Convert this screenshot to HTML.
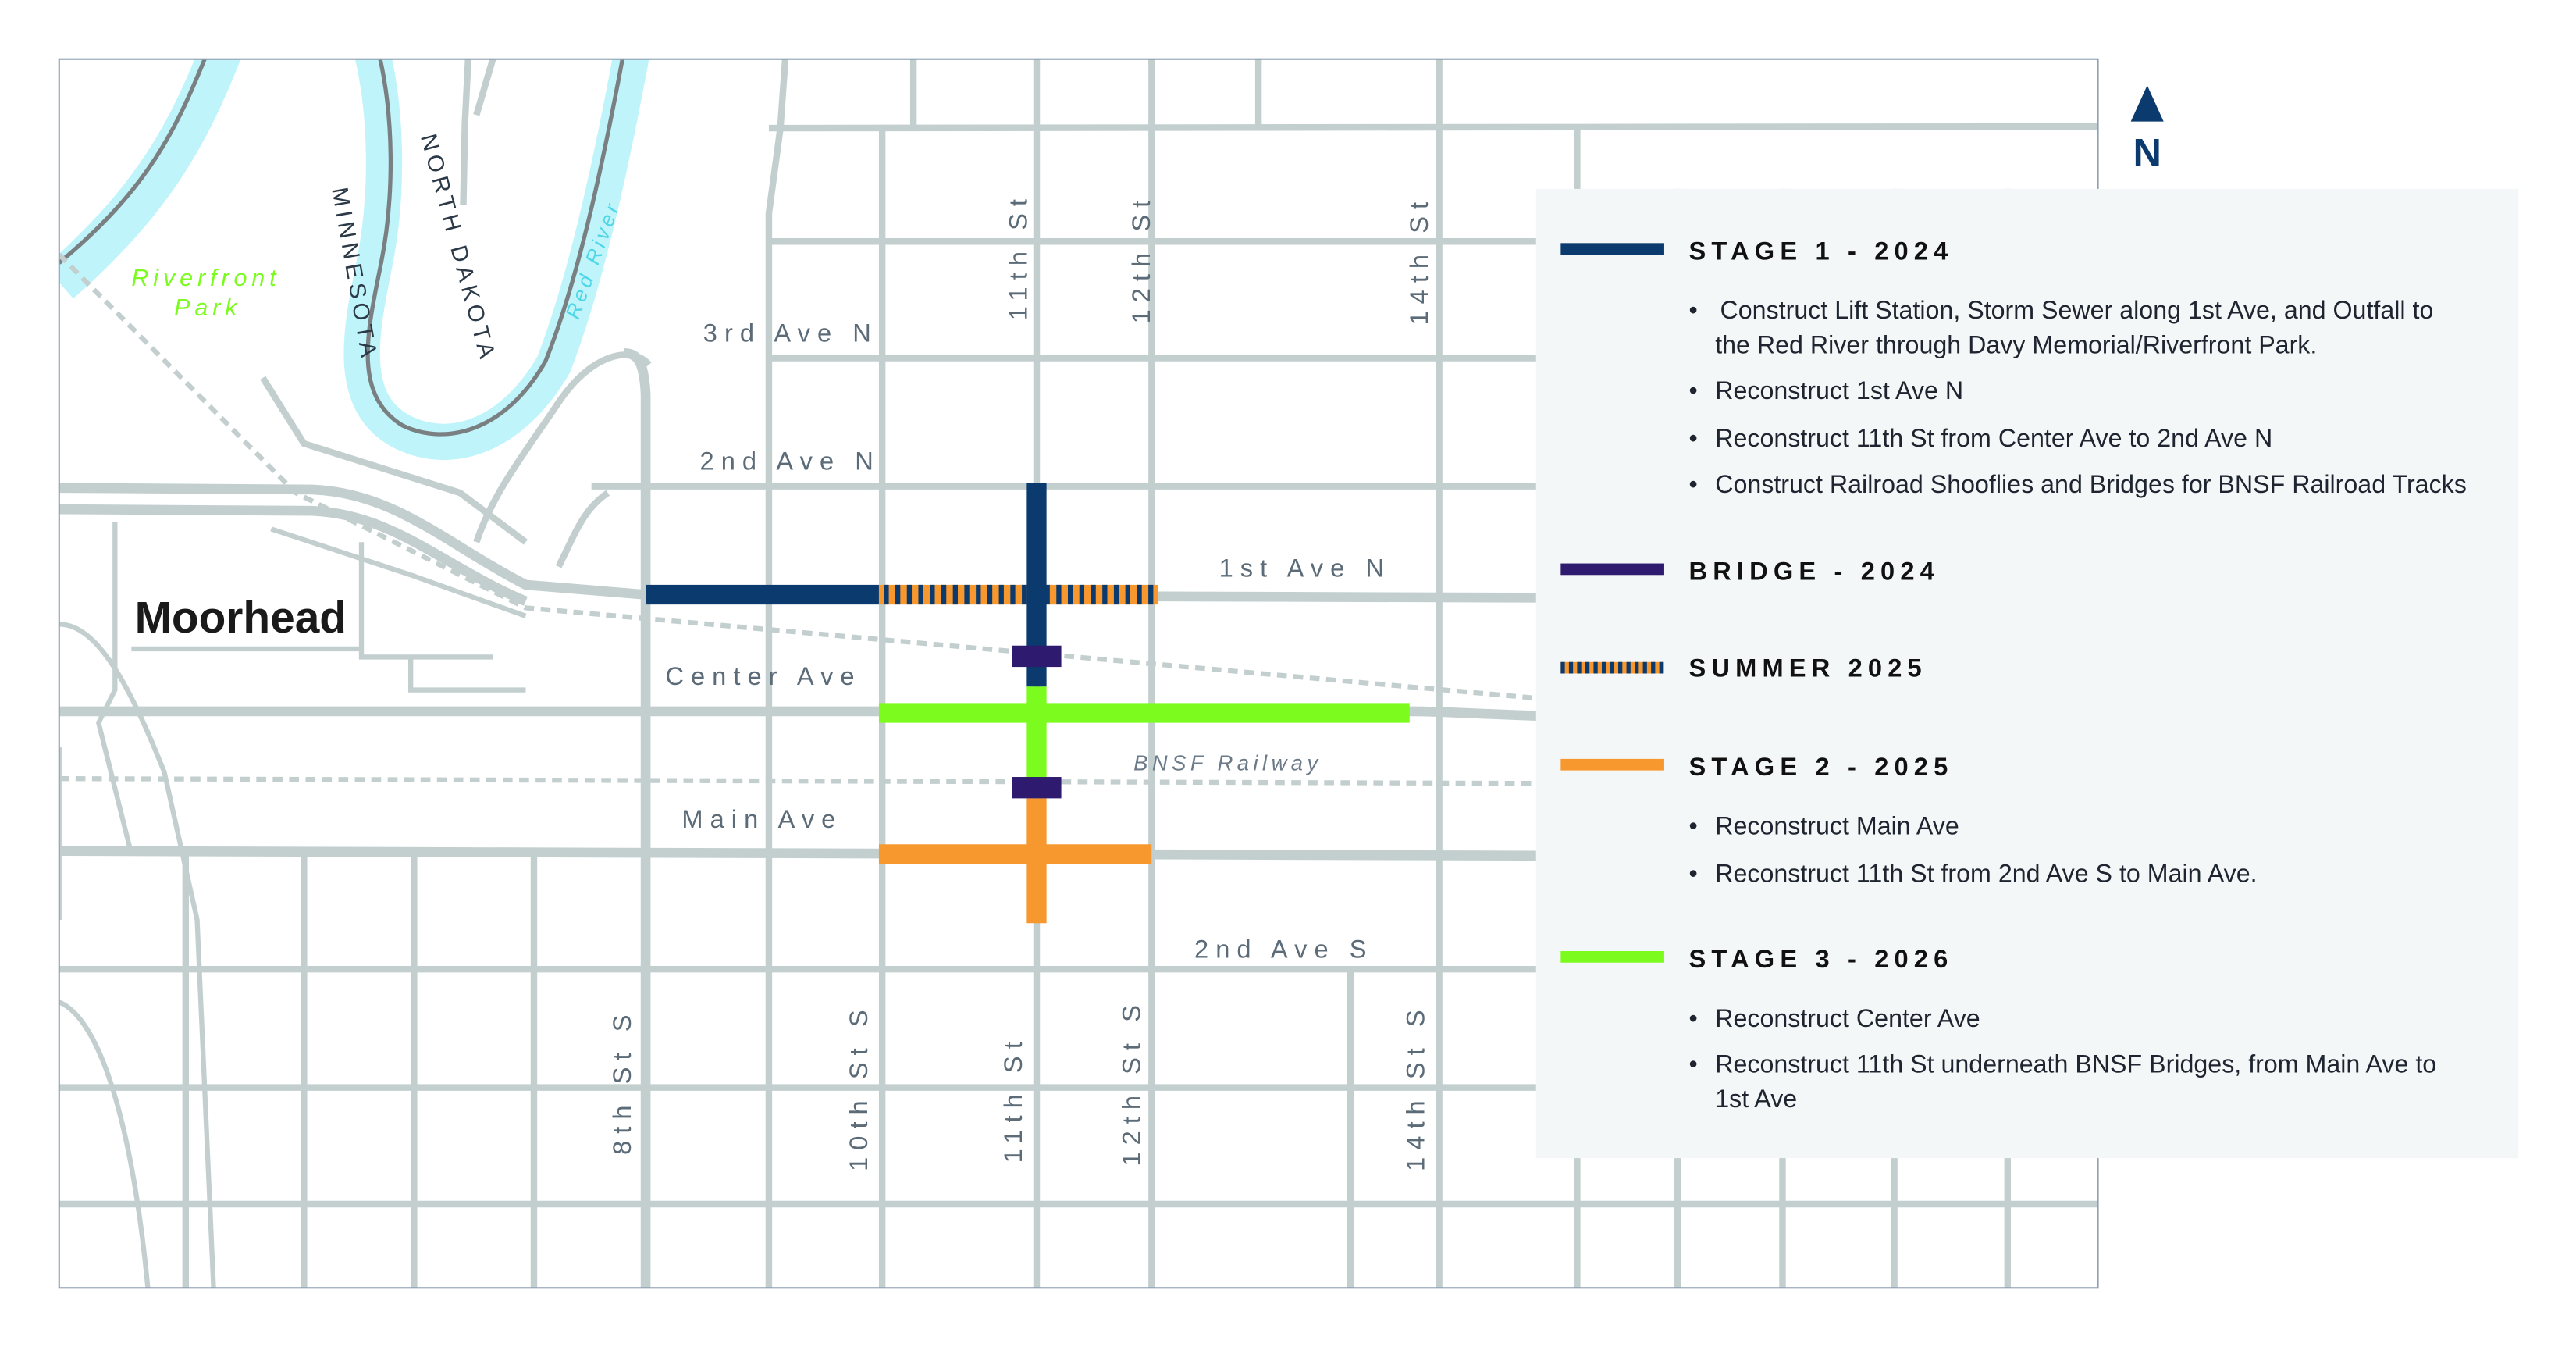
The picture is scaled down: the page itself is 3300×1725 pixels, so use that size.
<!DOCTYPE html>
<html><head><meta charset="utf-8"><style>
html,body{margin:0;padding:0;background:#fff;}
svg{display:block}
text{font-family:"Liberation Sans",sans-serif;}
</style></head><body>
<svg width="3300" height="1725" viewBox="0 0 1568 820" preserveAspectRatio="none" xmlns="http://www.w3.org/2000/svg">
<rect width="1568" height="820" fill="#fff"/>
<defs><clipPath id="m"><rect x="36" y="36" width="1241" height="748"/></clipPath></defs>
<g clip-path="url(#m)">
<path d="M135,30 C115,80 95,120 36,172" stroke="#bff4fa" stroke-width="26" fill="none"/>
<path d="M127,30 C107,80 90,115 36,160" stroke="#7a7f82" stroke-width="2.5" fill="none"/>
<path d="M226,30 C236,70 236,120 228,160 C220,200 210,245 245,263 C275,278 312,265 337,222 C357,170 372,100 385,30" stroke="#bff4fa" stroke-width="22" fill="none"/>
<path d="M230,30 C240,70 240,120 232,160 C224,200 214,240 245,259 C272,272 308,262 332,220 C352,170 367,100 380,30" stroke="#7a7f82" stroke-width="2.5" fill="none"/>
<g stroke="#c3cfcf" stroke-width="4" fill="none">
<path d="M468,784 L468,130 L475,78 L478,36"/>
<path d="M537,78 L537,784"/><path d="M631,36 L631,784"/><path d="M701,36 L701,784"/>
<path d="M876,36 L876,784"/><path d="M556,36 L556,78"/><path d="M766,36 L766,78"/>
<path d="M1021,115 L1021,784"/><path d="M1085,115 L1085,784"/><path d="M1153,115 L1153,784"/><path d="M1222,115 L1222,784"/>
<path d="M113,520 L113,784"/><path d="M185,520 L185,784"/><path d="M252,520 L252,784"/><path d="M325,520 L325,784"/><path d="M822,590 L822,784"/><path d="M960,78 L960,784"/>
<path d="M285,36 L283,75 L282,125"/><path d="M300,36 L290,70"/>
<path d="M160,230 L185,270 L280,300 L320,330"/>
<path d="M468,78 L1277,77"/><path d="M468,147 L1277,147"/><path d="M468,218 L1277,218"/>
<path d="M360,296 L1277,296"/><path d="M36,590 L1277,590"/><path d="M36,662 L1277,662"/><path d="M36,733 L1277,733"/>
<path d="M395,222 C385,210 360,215 340,245 C320,275 300,300 290,330"/>
<path d="M370,300 C355,310 350,325 340,345"/>
</g>
<g stroke="#c3cfcf" stroke-width="6" fill="none">
<path d="M393,784 L393,240 C392,220 388,215 380,215"/>
<path d="M36,297 L190,298 C240,300 270,330 320,356 L393,362 L1277,365"/>
<path d="M36,310 L190,311 C240,313 270,345 320,366"/>
<path d="M36,433 L860,433 C900,433 935,440 1277,440"/>
<path d="M36,518 L1277,522"/>
</g>
<g stroke="#c3cfcf" stroke-width="3" fill="none">
<path d="M70,318 L70,420 L60,440 L80,520"/><path d="M36,380 C60,380 80,420 100,470 L120,560 L130,784"/>
<path d="M80,395 L220,395"/><path d="M220,330 L220,400 L300,400"/><path d="M250,400 L250,420 L320,420"/>
<path d="M165,322 L250,350 L320,375"/><path d="M36,455 L36,560"/><path d="M36,610 C60,620 80,680 90,784"/>
</g>
<g stroke="#c3cfcf" stroke-width="3" stroke-dasharray="6,4" fill="none">
<path d="M36,155 L180,300 L320,370 L935,425 L1277,430"/>
<path d="M36,474 L1277,478"/>
</g>
<rect x="393" y="356" width="142" height="12" fill="#0b3a6e"/>
<rect x="535" y="356" width="170" height="12" fill="#f7982f"/>
<rect x="625" y="294" width="12" height="124" fill="#0b3a6e"/>
<rect x="535" y="428" width="323" height="12" fill="#7cfc1e"/>
<rect x="625" y="418" width="12" height="56" fill="#7cfc1e"/>
<rect x="535" y="514" width="166" height="12" fill="#f7982f"/>
<rect x="625" y="486" width="12" height="76" fill="#f7982f"/>
<rect x="616" y="393" width="30" height="13" fill="#2e1a6e"/>
<rect x="616" y="473" width="30" height="13" fill="#2e1a6e"/>
</g>
<path d="M538,362 L702,362" stroke="#0b3a6e" stroke-width="12" stroke-dasharray="3,4"/>
<rect x="36" y="36" width="1241" height="748" fill="none" stroke="#8fa1b3" stroke-width="1"/>
<g fill="#5b6b78" font-size="15.5" letter-spacing="4.3">
<text x="428" y="208">3rd Ave N</text>
<text x="426" y="286">2nd Ave N</text>
<text x="742" y="351">1st Ave N</text>
<text x="405" y="417">Center Ave</text>
<text x="415" y="504">Main Ave</text>
<text x="727" y="583">2nd Ave S</text>
<text transform="translate(625,195) rotate(-90)">11th St</text>
<text transform="translate(700,197) rotate(-90)">12th St</text>
<text transform="translate(869,198) rotate(-90)">14th St</text>
<text transform="translate(384,703) rotate(-90)">8th St S</text>
<text transform="translate(528,713) rotate(-90)">10th St S</text>
<text transform="translate(622,708) rotate(-90)">11th St</text>
<text transform="translate(694,710) rotate(-90)">12th St S</text>
<text transform="translate(867,713) rotate(-90)">14th St S</text>
</g>
<text x="690" y="469" fill="#6b7a88" font-size="13" font-style="italic" letter-spacing="2.6">BNSF Railway</text>
<g fill="#2c3a48" font-size="14" letter-spacing="2.8">
<text transform="translate(256,83) rotate(75)">NORTH DAKOTA</text>
<text transform="translate(202,115) rotate(80)">MINNESOTA</text>
</g>
<text transform="translate(352,195) rotate(-70)" fill="#4fd6e6" font-size="12.5" font-style="italic" letter-spacing="2.2">Red River</text>
<g fill="#7cfc1e" font-size="14.5" font-style="italic" letter-spacing="2.8"><text x="80" y="174">Riverfront</text><text x="106" y="192">Park</text></g>
<text x="82" y="385" fill="#1a1a1a" font-size="27" font-weight="bold">Moorhead</text>
<path d="M1307,52 L1297,74 L1317,74 Z" fill="#0b3a6e"/>
<text x="1307" y="101" text-anchor="middle" fill="#0b3a6e" font-size="24" font-weight="bold">N</text>
<rect x="935" y="115" width="598" height="590" fill="#f4f7f7"/>
<rect x="950" y="148" width="63" height="7" fill="#0b3a6e"/>
<rect x="950" y="343" width="63" height="7" fill="#2e1a6e"/>
<rect x="950" y="403" width="63" height="7" fill="#f7982f"/>
<path d="M950,406.5 L1013,406.5" stroke="#0b3a6e" stroke-width="7" stroke-dasharray="2.5,2.5"/>
<rect x="950" y="462" width="63" height="7" fill="#f7982f"/>
<rect x="950" y="579" width="63" height="7" fill="#7cfc1e"/>
<g fill="#111" font-size="15.5" font-weight="bold" letter-spacing="3.4">
<text x="1028" y="158">STAGE 1 - 2024</text>
<text x="1028" y="353">BRIDGE - 2024</text>
<text x="1028" y="412">SUMMER 2025</text>
<text x="1028" y="472">STAGE 2 - 2025</text>
<text x="1028" y="589">STAGE 3 - 2026</text>
</g>
<g fill="#1e2530" font-size="15.3">
<text x="1028" y="194">•</text><text x="1047" y="194">Construct Lift Station, Storm Sewer along 1st Ave, and Outfall to</text>
<text x="1044" y="215">the Red River through Davy Memorial/Riverfront Park.</text>
<text x="1028" y="243">•</text><text x="1044" y="243">Reconstruct 1st Ave N</text>
<text x="1028" y="272">•</text><text x="1044" y="272">Reconstruct 11th St from Center Ave to 2nd Ave N</text>
<text x="1028" y="300">•</text><text x="1044" y="300">Construct Railroad Shooflies and Bridges for BNSF Railroad Tracks</text>
<text x="1028" y="508">•</text><text x="1044" y="508">Reconstruct Main Ave</text>
<text x="1028" y="537">•</text><text x="1044" y="537">Reconstruct 11th St from 2nd Ave S to Main Ave.</text>
<text x="1028" y="625">•</text><text x="1044" y="625">Reconstruct Center Ave</text>
<text x="1028" y="653">•</text><text x="1044" y="653">Reconstruct 11th St underneath BNSF Bridges, from Main Ave to</text>
<text x="1044" y="674">1st Ave</text>
</g>
</svg>
</body></html>
